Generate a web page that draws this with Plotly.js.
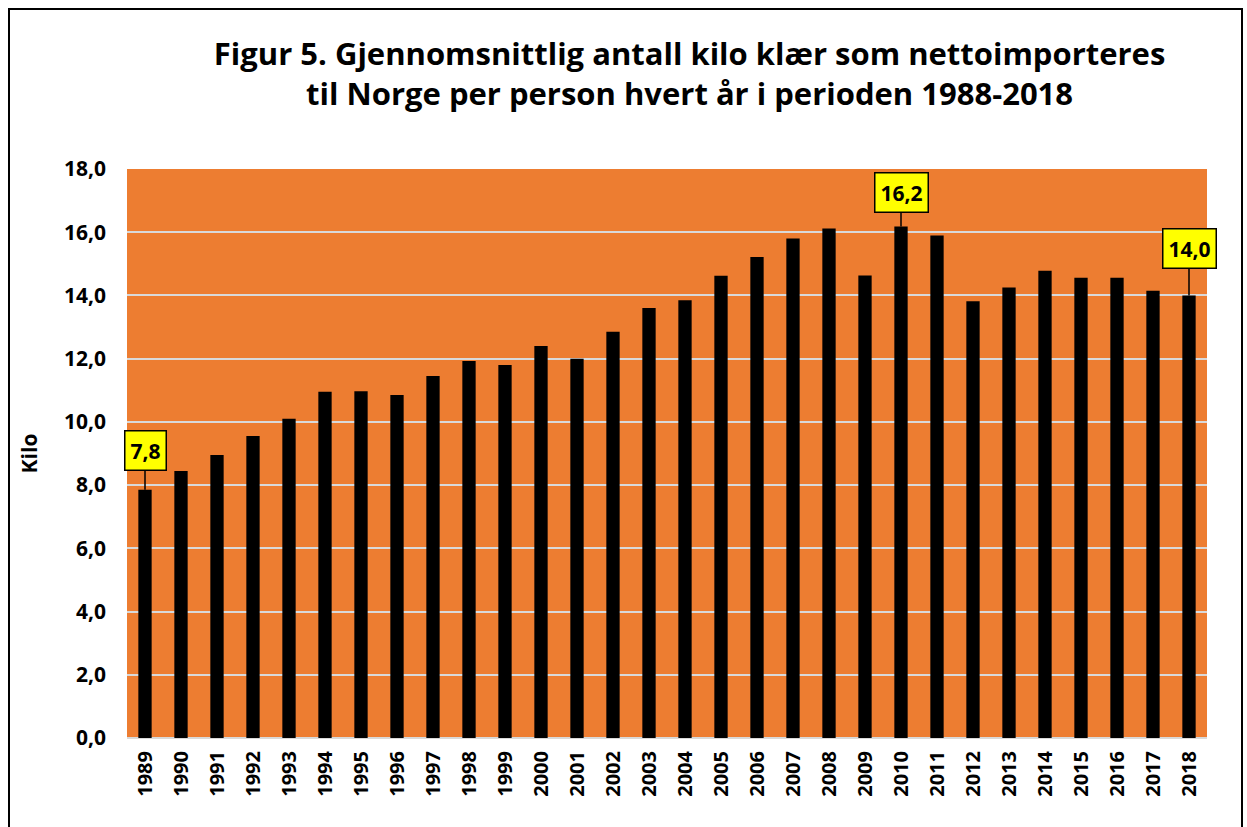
<!DOCTYPE html>
<html>
<head>
<meta charset="utf-8">
<script src="https://cdn.plot.ly/plotly-3.0.1.min.js"></script>
<style>
html,body{margin:0;padding:0;background:#fff;overflow:hidden;}
#chart{width:1247px;height:827px;}
#frame{position:absolute;left:8px;top:8px;width:1231px;height:840px;border:2px solid #000;pointer-events:none;}
</style>
</head>
<body>
<div id="chart"></div>
<div id="frame"></div>
<script>
const years = ["1989","1990","1991","1992","1993","1994","1995","1996","1997","1998","1999","2000","2001","2002","2003","2004","2005","2006","2007","2008","2009","2010","2011","2012","2013","2014","2015","2016","2017","2018"];
const kilo = [7.85,8.45,8.95,9.55,10.1,10.95,10.97,10.85,11.45,11.93,11.8,12.4,12.0,12.85,13.6,13.85,14.62,15.22,15.8,16.12,14.63,16.18,15.9,13.82,14.25,14.78,14.56,14.56,14.15,14.0];
const labelled = ["1989","2010","2018"];
const labelOffsets = [-39,-34,-47];
const tickVals = [0,2,4,6,8,10,12,14,16,18];
const tickText = ["0,0","2,0","4,0","6,0","8,0","10,0","12,0","14,0","16,0","18,0"];

const fontFam = "'Open Sans', 'Noto Sans', sans-serif";

const annotations = labelled.map((y,i)=>{
  const idx = years.indexOf(y);
  const v = kilo[idx];
  return {
    x: idx, y: v, xref:'x', yref:'y',
    text: '<b>' + v.toFixed(1).replace('.',',') + '</b>',
    showarrow: true, arrowhead: 0, arrowwidth: 1.5, arrowcolor: '#000',
    ax: 0, ay: labelOffsets[i],
    bgcolor: '#FFFF00', bordercolor: '#000', borderwidth: 1.5, borderpad: 5,
    font: {family: fontFam, size: 21, color: '#000'}
  };
});

const trace = {
  type: 'bar', x: years, y: kilo,
  marker: {color: '#000', line: {width: 0}},
  hoverinfo: 'x+y'
};

const layout = {
  width: 1247, height: 827,
  margin: {l:127, r:40, t:169, b:89},
  paper_bgcolor: '#fff', plot_bgcolor: '#ED7D31',
  bargap: 0.63,
  showlegend: false,
  title: {
    text: '<b>Figur 5. Gjennomsnittlig antall kilo klær som nettoimporteres<br>til Norge per person hvert år i perioden 1988-2018</b>',
    x: 0.553, xanchor: 'center', y: 0.922, yanchor: 'middle',
    font: {family: fontFam, size: 31, color: '#000'}
  },
  xaxis: {
    type: 'category', range: [-0.5, 29.5], tickangle: -90,
    tickfont: {family: fontFam, size: 20, color: '#000', weight: 'bold'},
    showgrid: false, zeroline: false, showline: false, ticks: '',
    ticklabelstandoff: 8
  },
  yaxis: {
    range: [0, 18], tickvals: tickVals, ticktext: tickText,
    tickfont: {family: fontFam, size: 21, color: '#000', weight: 'bold'},
    showgrid: true, gridcolor: '#D9D9D9', gridwidth: 2,
    zeroline: true, zerolinecolor: '#D9D9D9', zerolinewidth: 2,
    showline: false, ticks: '', ticklen: 0, ticklabelstandoff: 20,
    title: {text: '<b>Kilo</b>', font: {family: fontFam, size: 21, color: '#000'}, standoff: 20}
  },
  annotations: annotations
};

Plotly.newPlot('chart', [trace], layout, {displayModeBar: false, staticPlot: true});
</script>
</body>
</html>
